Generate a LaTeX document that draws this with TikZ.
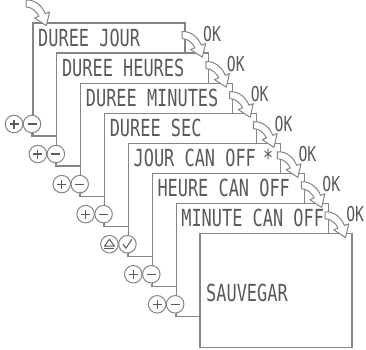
\documentclass[tikz,border=0pt]{standalone}
\usepackage{fontspec}
\usetikzlibrary{calc}
\newfontfamily\lcd[FakeStretch=0.72]{DejaVu Sans Mono}
\definecolor{ln}{HTML}{858585}
\definecolor{tx}{HTML}{5A5A5A}
\tikzset{
  screen/.style={draw=ln, line width=1.2pt, fill=white, anchor=north west,
    minimum width=152pt, minimum height=113pt, inner sep=0pt, outer sep=0pt},
  lbl/.style={text=tx, inner sep=0pt, anchor=base west, font=\lcd\fontsize{23.5}{23.5}\selectfont},
  oklab/.style={text=tx, inner sep=0pt, font=\lcd\fontsize{20.5}{20.5}\selectfont},
  btn/.style={circle, draw=ln, line width=1pt, fill=white, minimum size=17.5pt, inner sep=0pt},
  glyph/.style={draw=tx, line width=1.2pt},
  conn/.style={draw=ln, line width=1.2pt},
  arr/.style={draw=ln, line width=1pt, fill=white, line join=round}
}
\newcommand\curvedarrow[1]{%
  \begin{scope}[shift={(#1)}, scale=1.15]
    \path[arr] (0,-3) .. controls (9,-3.5) and (14.6,3.3) .. (16.8,8.9)
      -- (20.5,7.4) -- (17.7,19.3) -- (7.5,12.6) -- (11.2,11.1)
      .. controls (9.7,7.4) and (5,3) .. (0,3) -- cycle;
  \end{scope}}
\begin{document}
\begin{tikzpicture}[x=1pt,y=-1pt]
\useasboundingbox (0,0) rectangle (366,349);
% screens
\foreach \k/\txt in {0/DUREE JOUR,1/DUREE HEURES,2/DUREE MINUTES,3/DUREE SEC,
                     4/JOUR CAN OFF\kern-3pt\ *,5/HEURE CAN OFF,6/MINUTE CAN OFF}{
  \pgfmathsetmacro\L{33+23.86*\k}
  \pgfmathsetmacro\T{23+30.05*\k}
  \node[screen] (b\k) at (\L,\T) {};
  \node[lbl] (t\k) at ([xshift=5pt,yshift=-23pt]b\k.north west) {\txt};
}
\node[screen, minimum height=114pt] (b7) at (200,233.3) {};
\node[lbl] (t7) at ([xshift=6pt,yshift=-68pt]b7.north west) {SAUVEGAR};
% entry arrow
\coordinate (entry) at (26,3.5);
\curvedarrow{entry}
% OK arrows
\foreach \k in {0,...,6}{
  \curvedarrow{[xshift=-3pt,yshift=-12pt]b\k.north east}
  \node[oklab] (ok\k) at ([xshift=27pt,yshift=-11pt]b\k.north east) {OK};
}
% buttons and connectors
\foreach \k [count=\n from 1] in {0,...,6}{
  \node[btn] (m\k) at ([xshift=-1pt,yshift=12pt]b\k.south west) {};
  \node[btn] (p\k) at ([xshift=-18pt]m\k.center) {};
  \draw[conn] (m\k.south) |- (b\k.south -| b\n.west);
}
\foreach \k in {0,1,2,3,5,6}{
  \draw[glyph] ([xshift=-4.5pt]p\k.center) -- ([xshift=4.5pt]p\k.center);
  \draw[glyph] ([yshift=-4.5pt]p\k.center) -- ([yshift=4.5pt]p\k.center);
  \draw[glyph] ([xshift=-4.5pt]m\k.center) -- ([xshift=4.5pt]m\k.center);
}
% eject-like triangle and check mark
\draw[glyph, line width=1pt, line join=round] ([shift={(-5,2)}]p4.center) -- ([shift={(5,2)}]p4.center)
   -- ([shift={(0,-5)}]p4.center) -- cycle;
\draw[glyph, line width=1pt] ([shift={(-5,4.5)}]p4.center) -- ([shift={(5,4.5)}]p4.center);
\draw[glyph, line width=1.1pt, line join=round] ([shift={(-4.5,0)}]m4.center) -- ([shift={(-1.5,4)}]m4.center)
   -- ([shift={(4.5,-5)}]m4.center);
\end{tikzpicture}
\end{document}
